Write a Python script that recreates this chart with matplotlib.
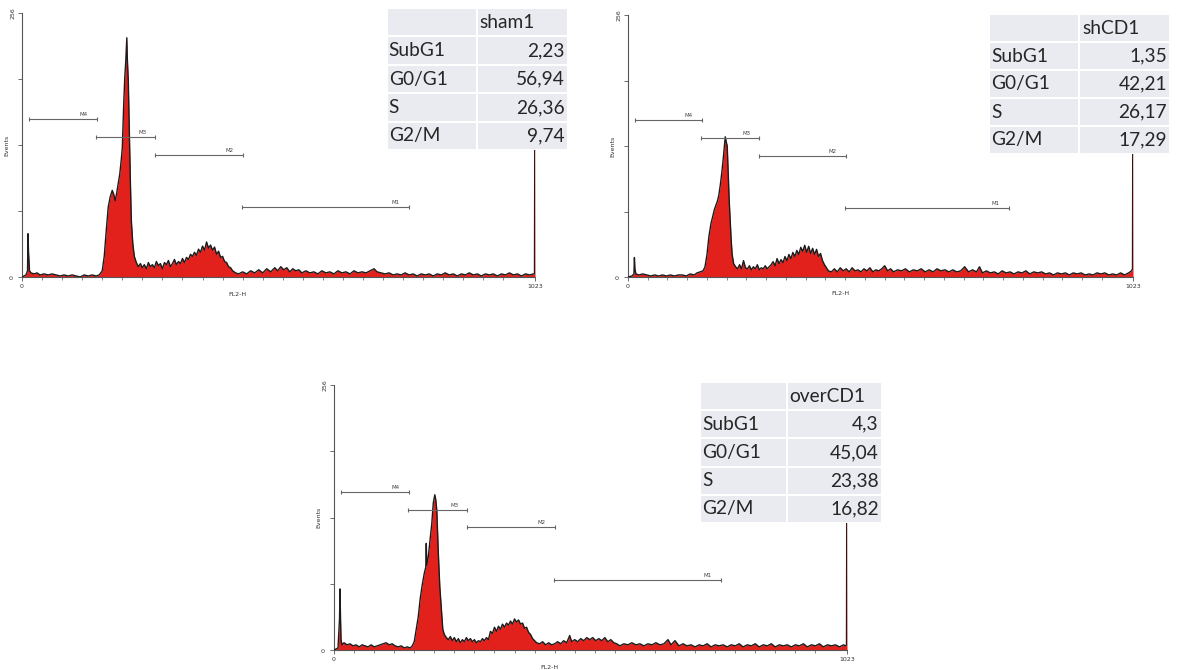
"""Trois histogrammes de cycle cellulaire (FL2-H) avec leur tableau de pourcentages."""
import matplotlib
matplotlib.use("Agg")
import matplotlib.pyplot as plt
from matplotlib.patches import Rectangle

W, H = 1179, 670
ROUGE, ENCRE, GRIS = "#e3211c", "#1b1b1b", "#555555"
CELLULE = "#e9ebf0"

# --- données : canal FL2-H -> nombre d'événements ---
sham1_ch = [0, 8, 11, 12, 13, 15, 18, 24, 30, 36, 44, 52, 60, 68, 76, 84, 92, 100, 108, 116,
            124, 132, 140, 148, 154, 160, 164, 168, 172, 176, 180, 183, 186, 189, 192, 195,
            198, 200, 203, 205, 207, 209, 210, 212, 214, 216, 218, 221, 224, 228, 232, 236,
            240, 244, 248, 252, 256, 260, 264, 268, 272, 276, 280, 284, 288, 292, 296, 300,
            304, 308, 312, 316, 320, 324, 328, 332, 336, 340, 344, 348, 352, 356, 360, 364,
            368, 372, 376, 380, 384, 388, 392, 396, 400, 404, 408, 412, 416, 420, 426, 432,
            440, 448, 456, 464, 472, 480, 488, 496, 504, 510, 516, 522, 528, 534, 540, 546,
            552, 558, 566, 574, 582, 590, 598, 606, 614, 622, 630, 638, 646, 654, 662, 670,
            678, 686, 694, 702, 708, 716, 724, 732, 740, 748, 756, 764, 772, 780, 788, 796,
            804, 812, 820, 828, 836, 844, 852, 860, 868, 876, 884, 892, 900, 908, 916, 924,
            932, 940, 948, 956, 964, 972, 980, 988, 996, 1004, 1012, 1020, 1022, 1023]
sham1_n = [0, 2, 6, 42, 24, 6, 4, 3, 4, 2, 3, 2, 3, 2, 1, 2, 1, 2, 1, 0,
           2, 1, 2, 1, 2, 6, 20, 45, 68, 78, 84, 80, 74, 82, 91, 100,
           114, 125, 170, 194, 210, 232, 212, 190, 140, 95, 55, 32, 20, 14, 10, 13,
           9, 12, 8, 14, 10, 12, 9, 15, 11, 13, 8, 14, 12, 16, 10, 13,
           17, 12, 15, 13, 18, 14, 19, 17, 22, 20, 24, 21, 27, 24, 30, 26,
           34, 28, 31, 26, 29, 22, 25, 19, 20, 15, 14, 10, 9, 6, 4, 3,
           5, 3, 6, 4, 7, 4, 8, 5, 9, 6, 10, 7, 9, 5, 8, 6,
           7, 4, 6, 4, 5, 3, 6, 4, 5, 3, 6, 4, 5, 3, 6, 4,
           5, 4, 6, 8, 5, 4, 3, 4, 2, 3, 2, 4, 2, 3, 1, 3,
           2, 3, 1, 3, 2, 4, 2, 3, 1, 3, 2, 4, 2, 3, 1, 3,
           2, 3, 1, 3, 2, 4, 2, 3, 1, 3, 2, 3, 3, 256]

shcd1_ch = [0, 8, 12, 13, 14, 16, 22, 30, 38, 46, 54, 62, 70, 78, 86, 94, 102, 110, 118, 126,
            134, 140, 146, 152, 156, 160, 164, 168, 172, 175, 178, 181, 184, 187, 190, 193,
            195, 197, 199, 201, 203, 205, 207, 209, 211, 214, 218, 222, 226, 230, 234, 238,
            242, 246, 250, 254, 258, 262, 266, 270, 274, 278, 282, 286, 290, 294, 298, 302,
            306, 310, 314, 318, 322, 326, 330, 334, 338, 342, 346, 350, 354, 358, 362, 366,
            370, 374, 378, 382, 386, 390, 394, 398, 402, 406, 412, 418, 424, 430, 436, 442,
            448, 454, 460, 466, 472, 478, 484, 490, 496, 502, 508, 514, 520, 526, 532, 538,
            546, 554, 562, 570, 578, 586, 594, 602, 610, 618, 626, 634, 642, 650, 658, 666,
            674, 682, 690, 698, 706, 712, 718, 726, 734, 742, 750, 758, 766, 774, 782, 790,
            798, 806, 814, 822, 830, 838, 846, 854, 862, 870, 878, 886, 894, 902, 910, 918,
            926, 934, 942, 950, 958, 966, 974, 982, 990, 998, 1006, 1014, 1020, 1022, 1023]
shcd1_n = [0, 1, 3, 19, 8, 3, 2, 3, 2, 1, 2, 1, 2, 1, 2, 1, 2, 2, 1, 3,
           2, 4, 5, 6, 10, 22, 40, 52, 60, 66, 70, 74, 80, 90, 102, 116,
           127, 137, 132, 128, 100, 75, 55, 36, 22, 13, 10, 8, 12, 8, 16, 9,
           8, 11, 7, 10, 8, 12, 7, 9, 8, 11, 8, 10, 12, 15, 11, 18,
           13, 17, 14, 20, 16, 22, 18, 24, 20, 26, 22, 29, 25, 31, 24, 30,
           23, 28, 22, 27, 20, 23, 16, 12, 9, 6, 5, 8, 5, 9, 6, 8,
           5, 9, 6, 7, 5, 8, 6, 9, 5, 7, 6, 8, 11, 6, 8, 5,
           7, 6, 8, 5, 7, 6, 8, 5, 7, 5, 8, 6, 7, 5, 7, 5,
           6, 10, 5, 7, 5, 10, 4, 6, 4, 5, 3, 6, 4, 5, 3, 5,
           4, 6, 3, 5, 4, 5, 3, 4, 2, 4, 3, 4, 2, 4, 3, 4,
           2, 3, 2, 4, 3, 4, 2, 3, 2, 4, 2, 4, 6, 8, 256]

overcd1_ch = [0, 8, 11, 12, 13, 14, 16, 20, 26, 32, 38, 44, 50, 56, 62, 68, 74, 80, 86, 92,
              98, 104, 110, 116, 122, 128, 134, 140, 146, 152, 156, 160, 164, 168, 172, 176,
              180, 183, 184, 185, 188, 192, 195, 198, 201, 203, 205, 208, 211, 214, 217, 220,
              224, 228, 232, 236, 240, 244, 248, 252, 256, 260, 264, 268, 272, 276, 280, 284,
              288, 292, 296, 300, 304, 308, 312, 316, 320, 324, 328, 332, 336, 340, 344, 348,
              352, 356, 360, 364, 368, 372, 376, 380, 384, 388, 392, 396, 400, 404, 410, 416,
              422, 428, 434, 440, 446, 452, 458, 464, 470, 474, 480, 486, 492, 498, 504, 510,
              516, 522, 528, 534, 540, 546, 552, 558, 564, 570, 578, 586, 594, 602, 610, 618,
              626, 634, 642, 650, 658, 666, 672, 680, 688, 696, 704, 712, 720, 728, 736, 744,
              752, 760, 768, 776, 784, 792, 800, 808, 816, 824, 832, 840, 848, 856, 864, 872,
              880, 888, 896, 904, 912, 920, 928, 936, 944, 952, 960, 968, 976, 984, 992, 1000,
              1008, 1016, 1020, 1022, 1023]
overcd1_n = [0, 2, 30, 59, 31, 10, 5, 7, 5, 6, 4, 5, 3, 5, 4, 3, 5, 3, 4, 5,
             6, 7, 5, 6, 4, 3, 4, 2, 3, 2, 4, 8, 20, 32, 50, 63,
             74, 80, 103, 82, 90, 108, 122, 142, 150, 145, 135, 94, 61, 40, 20, 15,
             12, 10, 13, 9, 12, 8, 11, 7, 10, 8, 12, 9, 11, 8, 10, 7,
             9, 8, 11, 9, 12, 10, 18, 16, 22, 18, 23, 20, 25, 22, 26, 24,
             28, 25, 30, 27, 29, 25, 26, 21, 22, 17, 15, 11, 9, 7, 6, 8,
             5, 7, 5, 6, 8, 6, 9, 7, 14, 8, 10, 8, 11, 9, 12, 10,
             12, 9, 11, 9, 12, 8, 10, 7, 6, 4, 6, 5, 7, 5, 6, 4,
             6, 5, 7, 5, 6, 10, 5, 9, 4, 6, 4, 5, 3, 5, 4, 6,
             3, 5, 4, 5, 3, 5, 4, 6, 3, 5, 4, 6, 3, 5, 4, 6,
             3, 5, 4, 5, 3, 5, 4, 6, 3, 5, 4, 6, 3, 5, 4, 5,
             3, 5, 4, 5, 256]

# marqueurs M1..M4 : début, fin (canal), hauteur (événements)
marqueurs = ["M4", "M3", "M2", "M1"]
marq_debut = [14, 148, 266, 439]
marq_fin = [149, 266, 441, 771]
marq_haut = [153, 135.5, 118.5, 67.5]

# tableaux de pourcentages
phases = ["SubG1", "G0/G1", "S", "G2/M"]
sham1_pct = [2.23, 56.94, 26.36, 9.74]
shcd1_pct = [1.35, 42.21, 26.17, 17.29]
overcd1_pct = [4.3, 45.04, 23.38, 16.82]

fig = plt.figure(figsize=(W / 100, H / 100), dpi=100)


def rect(x0, y0, x1, y1):
    """pixels (origine en haut à gauche) -> coordonnées figure"""
    return [x0 / W, 1 - y1 / H, (x1 - x0) / W, (y1 - y0) / H]


def histo(box, ch, n):
    ax = fig.add_axes(rect(*box))
    ax.fill_between(ch, n, color=ROUGE, lw=0, zorder=2)
    ax.plot(ch, n, color=ENCRE, lw=1.0, zorder=3)
    ax.set_xlim(0, 1023)
    ax.set_ylim(0, 256)
    for s in ("top", "right"):
        ax.spines[s].set_visible(False)
    for s in ("left", "bottom"):
        ax.spines[s].set_color(GRIS)
        ax.spines[s].set_linewidth(0.8)
    ax.set_yticks([0, 64, 128, 192, 256], ["0", "", "", "", "256"])
    ax.set_xticks([0, 1023], ["0", "1023"])
    ax.set_xticks(range(40, 1000, 40), minor=True)
    ax.tick_params(colors=GRIS, labelcolor="#333333", labelsize=4.5, length=3, width=0.6, pad=2)
    ax.tick_params(axis="x", which="minor", length=2, width=0.5, colors=GRIS)
    for t in ax.get_yticklabels():
        t.set_rotation(90)
        t.set_va("center")
    ax.set_xlabel("FL2-H", fontsize=4.5, color="#333333")
    ax.set_ylabel("Events", fontsize=4.5, color="#333333")
    ax.xaxis.set_label_coords(0.42, -0.055)
    ax.yaxis.set_label_coords(-0.025, 0.5)
    for nom, a, b, y in zip(marqueurs, marq_debut, marq_fin, marq_haut):
        ax.plot([a, b], [y, y], color="#666666", lw=0.8, marker="|", ms=3, mew=0.8, zorder=4)
        ax.text(b - 18, y + 2, nom, fontsize=4, color="#444444", ha="right", va="bottom")
    return ax


def tableau(box, col, titre, valeurs):
    x0, y0, x1, y1 = box
    ax = fig.add_axes(rect(x0, y0, x1, y1), zorder=5)
    ax.set_xlim(x0, x1)
    ax.set_ylim(y1, y0)
    ax.axis("off")
    lignes = [("", titre)] + [(p, str(v).replace(".", ",")) for p, v in zip(phases, valeurs)]
    hl = (y1 - y0) / len(lignes)
    style = dict(fontsize=13.8, family="Lato", color="#262626", va="center")
    for i, (g, d) in enumerate(lignes):
        ya = y0 + i * hl
        ax.add_patch(Rectangle((x0, ya), col - x0, hl, fc=CELLULE, ec="white", lw=1.5))
        ax.add_patch(Rectangle((col, ya), x1 - col, hl, fc=CELLULE, ec="white", lw=1.5))
        ax.text(x0 + 2, ya + hl / 2, g, **style)
        if i == 0:
            ax.text(col + 3, ya + hl / 2, d, **style)
        else:
            ax.text(x1 - 3, ya + hl / 2, d, ha="right", **style)


histo((22, 13, 535, 277), sham1_ch, sham1_n)
histo((628, 15, 1133, 277), shcd1_ch, shcd1_n)
histo((334, 385, 847, 650), overcd1_ch, overcd1_n)

tableau((386.7, 8, 568, 150), 476.7, "sham1", sham1_pct)
tableau((989, 14, 1170, 154), 1079, "shCD1", shcd1_pct)
tableau((700, 382, 881.7, 523), 786.7, "overCD1", overcd1_pct)

fig.savefig("out.png", dpi=100)
